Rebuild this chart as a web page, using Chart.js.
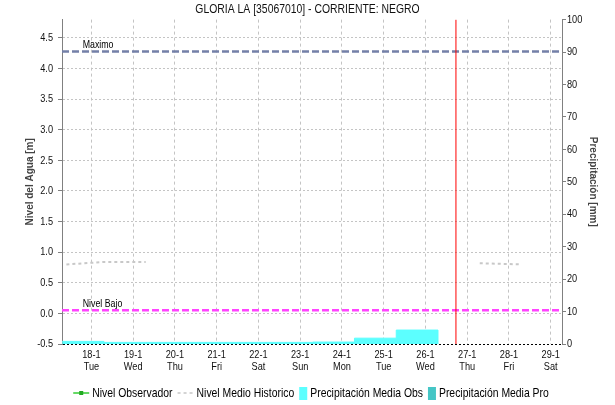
<!DOCTYPE html>
<html>
<head>
<meta charset="utf-8">
<script src="https://cdn.jsdelivr.net/npm/chart.js@4.4.1/dist/chart.umd.min.js"></script>
<style>
  html, body { margin: 0; padding: 0; background: #fff; }
  #wrap { width: 615px; height: 405px; }
</style>
</head>
<body>
<div id="wrap"><canvas id="nivel-chart"></canvas></div>
<script>
// días del eje x (enero)
const days = [18, 19, 20, 21, 22, 23, 24, 25, 26, 27, 28, 29];
const dayLabels = ['18-1', '19-1', '20-1', '21-1', '22-1', '23-1', '24-1', '25-1', '26-1', '27-1', '28-1', '29-1'];
const weekDays = ['Tue', 'Wed', 'Thu', 'Fri', 'Sat', 'Sun', 'Mon', 'Tue', 'Wed', 'Thu', 'Fri', 'Sat'];

// precipitación media observada, mm por día
const precipDays = [18, 19, 20, 21, 22, 23, 24, 25, 26];
const precipObs = [0.8, 0.5, 0.5, 0.5, 0.5, 0.5, 0.6, 1.8, 4.3];

// nivel medio histórico (m), null = sin dato
const histDays = [17.4, 18.3, 19.3, 23.3, 27.3, 28.3];
const histLevel = [0.80, 0.84, 0.84, null, 0.82, 0.80];

// nivel observado: sin datos en el periodo
const obsDays = [];
const obsLevel = [];

const levelTicks = [-0.5, 0, 0.5, 1, 1.5, 2, 2.5, 3, 3.5, 4, 4.5];
const maxLevel = 4.28;   // Maximo
const lowLevel = 0.05;   // Nivel Bajo
const nowDay = 26.73;    // fecha actual

const xMin = 17.295, xMax = 29.27;
const yMin = -0.5, yMax = 4.8;

const SANS = '"Liberation Sans", Arial, sans-serif';
const SQUEEZE = 0.8;  // texto estrecho

const toPoints = (xs, ys) => xs.map((x, i) => ({ x: x, y: ys[i] }));

// cada barra va de las 7:00 del día anterior a las 7:00 del día
let precipPoints = precipDays.map((d, i) => ({ x: d - 0.7, y: precipObs[i] }));
precipPoints.push({ x: precipDays[precipDays.length - 1] + 0.3, y: 0 });

// comprime el texto horizontal (los títulos girados se dejan igual)
const narrowText = {
  id: 'narrowText',
  beforeInit(chart) {
    const ctx = chart.ctx;
    const fillText = ctx.fillText;
    ctx.fillText = function (text, x, y, maxWidth) {
      const m = ctx.getTransform();
      if (m.b !== 0 || m.c !== 0) {
        return fillText.apply(ctx, arguments);
      }
      const p = m.transformPoint(new DOMPoint(x, y));
      ctx.save();
      ctx.setTransform(new DOMMatrix().translate(p.x, p.y).scale(SQUEEZE, 1).translate(-p.x, -p.y).multiply(m));
      if (maxWidth === undefined) {
        fillText.call(ctx, text, x, y);
      } else {
        fillText.call(ctx, text, x, y, maxWidth / SQUEEZE);
      }
      ctx.restore();
    };
  }
};

const thresholdLabels = {
  id: 'thresholdLabels',
  afterDatasetsDraw(chart) {
    const { ctx, scales: { x, y } } = chart;
    ctx.save();
    ctx.font = '11px ' + SANS;
    ctx.fillStyle = '#000';
    ctx.textBaseline = 'bottom';
    ctx.fillText('Maximo', x.getPixelForValue(17.79), y.getPixelForValue(maxLevel) - 1);
    ctx.fillText('Nivel Bajo', x.getPixelForValue(17.79), y.getPixelForValue(lowLevel) - 1);
    ctx.restore();
  }
};

const legendItems = [
  { text: 'Nivel Observador', kind: 'line', color: '#33cc33' },
  { text: 'Nivel Medio Historico', kind: 'dash', color: '#d4d4d4' },
  { text: 'Precipitación Media Obs', kind: 'box', color: '#5cffff' },
  { text: 'Precipitación Media Pro', kind: 'box', color: '#45c6c6' }
];

const bottomLegend = {
  id: 'bottomLegend',
  afterDraw(chart) {
    const ctx = chart.ctx;
    ctx.save();
    ctx.font = '13px ' + SANS;
    ctx.textBaseline = 'middle';
    const cy = 393;
    const swatchW = (it) => (it.kind === 'box' ? 8 : 16);
    const widths = legendItems.map(it => swatchW(it) + 3 + ctx.measureText(it.text).width * SQUEEZE);
    const total = widths.reduce((a, b) => a + b, 0) + 5 * (legendItems.length - 1);
    let x = 311 - total / 2;
    legendItems.forEach((it, i) => {
      if (it.kind === 'line') {
        ctx.strokeStyle = it.color;
        ctx.lineWidth = 1.5;
        ctx.beginPath();
        ctx.moveTo(x, cy);
        ctx.lineTo(x + 16, cy);
        ctx.stroke();
        ctx.fillStyle = '#22aa22';
        ctx.fillRect(x + 6, cy - 2, 4, 4);
      } else if (it.kind === 'dash') {
        ctx.strokeStyle = it.color;
        ctx.lineWidth = 2;
        ctx.setLineDash([3, 3]);
        ctx.beginPath();
        ctx.moveTo(x, cy);
        ctx.lineTo(x + 16, cy);
        ctx.stroke();
        ctx.setLineDash([]);
      } else {
        ctx.fillStyle = it.color;
        ctx.fillRect(x, cy - 6, 8, 13);
      }
      ctx.fillStyle = '#000';
      ctx.fillText(it.text, x + swatchW(it) + 3, cy);
      x += widths[i] + 5;
    });
    ctx.restore();
  }
};

new Chart(document.getElementById('nivel-chart'), {
  type: 'line',
  data: {
    datasets: [
      {
        label: 'Nivel Observador',
        data: toPoints(obsDays, obsLevel),
        yAxisID: 'y',
        borderColor: '#33cc33',
        borderWidth: 1.5,
        pointRadius: 0,
        order: 1
      },
      {
        label: 'Nivel Medio Historico',
        data: toPoints(histDays, histLevel),
        yAxisID: 'y',
        borderColor: '#c8c8c8',
        borderWidth: 2,
        borderDash: [3, 3],
        pointRadius: 0,
        spanGaps: false,
        order: 1
      },
      {
        label: 'Maximo',
        data: [{ x: xMin, y: maxLevel }, { x: xMax, y: maxLevel }],
        yAxisID: 'y',
        borderColor: '#7480a8',
        borderWidth: 2.5,
        borderDash: [7, 3],
        pointRadius: 0,
        order: 1
      },
      {
        label: 'Nivel Bajo',
        data: [{ x: xMin, y: lowLevel }, { x: xMax, y: lowLevel }],
        yAxisID: 'y',
        borderColor: '#ff44ff',
        borderWidth: 2.5,
        borderDash: [7, 3],
        pointRadius: 0,
        order: 1
      },
      {
        label: 'Hoy',
        data: [{ x: nowDay, y: yMin }, { x: nowDay, y: yMax }],
        yAxisID: 'y',
        borderColor: '#ff0000',
        borderWidth: 1,
        pointRadius: 0,
        order: 0
      },
      {
        label: 'Precipitación Media Obs',
        data: precipPoints,
        yAxisID: 'y2',
        stepped: 'before',
        fill: 'origin',
        borderColor: '#5cffff',
        backgroundColor: '#5cffff',
        borderWidth: 1,
        pointRadius: 0,
        order: 3
      }
    ]
  },
  options: {
    responsive: true,
    maintainAspectRatio: false,
    animation: false,
    layout: { padding: { top: 0, right: 0, bottom: 21, left: 0 } },
    plugins: {
      legend: { display: false },
      tooltip: { enabled: false },
      title: {
        display: true,
        text: 'GLORIA LA [35067010] - CORRIENTE: NEGRO',
        color: '#111',
        font: { family: SANS, size: 13, weight: 'normal' },
        padding: { top: 2, bottom: 2 }
      }
    },
    scales: {
      x: {
        type: 'linear',
        min: xMin,
        max: xMax,
        afterFit: (scale) => { scale.height = 40; },
        afterBuildTicks: (scale) => { scale.ticks = days.map(v => ({ value: v })); },
        ticks: {
          autoSkip: false,
          maxRotation: 0,
          padding: 5,
          color: '#111',
          font: { family: SANS, size: 11.5, lineHeight: 1.05 },
          callback: (value) => {
            const i = days.indexOf(value);
            return i < 0 ? '' : [dayLabels[i], weekDays[i]];
          }
        },
        grid: { color: '#c4c4c4', drawTicks: false },
        border: { display: false, dash: [3, 3] }
      },
      y: {
        position: 'left',
        min: yMin,
        max: yMax,
        afterFit: (scale) => { scale.width = 62; },
        afterBuildTicks: (scale) => { scale.ticks = levelTicks.map(v => ({ value: v })); },
        ticks: {
          padding: 5,
          color: '#111',
          font: { family: SANS, size: 11.5 },
          callback: (value) => value.toFixed(1)
        },
        grid: {
          color: (c) => (c.tick && c.tick.value === yMin ? '#000' : '#c4c4c4'),
          tickColor: '#808080',
          tickLength: 4
        },
        border: { display: true, color: '#808080', width: 1, dash: [2, 2] },
        title: {
          display: true,
          text: 'Nivel del Agua [m]',
          color: '#444',
          font: { family: SANS, size: 10, weight: 'bold' },
          padding: { top: 24, bottom: 0 }
        }
      },
      y2: {
        position: 'right',
        min: 0,
        max: 100,
        afterFit: (scale) => { scale.width = 53; },
        ticks: {
          stepSize: 10,
          padding: 1,
          color: '#111',
          font: { family: SANS, size: 11.5 }
        },
        grid: { drawOnChartArea: false, tickColor: '#808080', tickLength: 4 },
        border: { display: true, color: '#808080', width: 1 },
        title: {
          display: true,
          text: 'Precipitación [mm]',
          color: '#444',
          font: { family: SANS, size: 10, weight: 'bold' },
          padding: { top: 16, bottom: 0 }
        }
      }
    }
  },
  plugins: [narrowText, thresholdLabels, bottomLegend]
});
</script>
</body>
</html>
